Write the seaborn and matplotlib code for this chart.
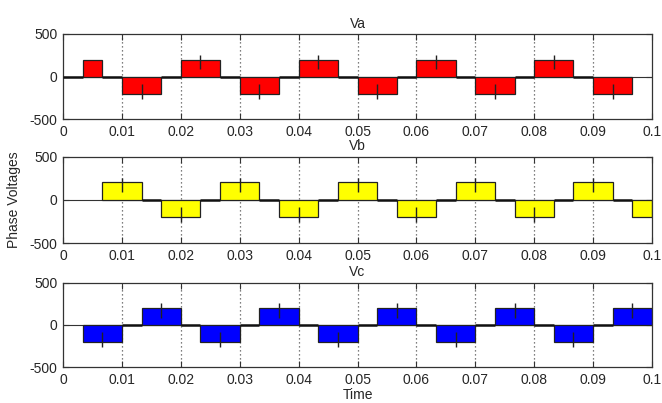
import numpy as np
import pandas as pd
import matplotlib
matplotlib.use("Agg")
import matplotlib.pyplot as plt
import seaborn as sns

# ---- data ----
phases = ["Va", "Vb", "Vc"]
colors = ["#ff0000", "#ffff00", "#0000ff"]

va_start = [0.00333, 0.01, 0.02, 0.03, 0.04, 0.05, 0.06, 0.07, 0.08, 0.09]
va_end = [0.00667, 0.01667, 0.02667, 0.03667, 0.04667, 0.05667, 0.06667, 0.07667, 0.08667, 0.09667]
va_level = [200, -200, 200, -200, 200, -200, 200, -200, 200, -200]
va_err = [False, True, True, True, True, True, True, True, True, True]

vb_start = [0.00667, 0.01667, 0.02667, 0.03667, 0.04667, 0.05667, 0.06667, 0.07667, 0.08667, 0.09667]
vb_end = [0.01333, 0.02333, 0.03333, 0.04333, 0.05333, 0.06333, 0.07333, 0.08333, 0.09333, 0.1]
vb_level = [200, -200, 200, -200, 200, -200, 200, -200, 200, -200]
vb_err = [True, True, True, True, True, True, True, True, True, False]

vc_start = [0.00333, 0.01333, 0.02333, 0.03333, 0.04333, 0.05333, 0.06333, 0.07333, 0.08333, 0.09333]
vc_end = [0.01, 0.02, 0.03, 0.04, 0.05, 0.06, 0.07, 0.08, 0.09, 0.1]
vc_level = [-200, 200, -200, 200, -200, 200, -200, 200, -200, 200]
vc_err = [True, True, True, True, True, True, True, True, True, True]

# zero-level stretch of Va before its first pulse
va_lead = [0.0, 0.00333]

err_inner = 85
err_outer = 255

x_ticks = [0, 0.01, 0.02, 0.03, 0.04, 0.05, 0.06, 0.07, 0.08, 0.09, 0.1]
x_ticklabels = ["0", "0.01", "0.02", "0.03", "0.04", "0.05", "0.06", "0.07", "0.08", "0.09", "0.1"]
y_ticks = [-500, 0, 500]
y_ticklabels = ["-500", "0", "500"]

sns.set_style("white")
plt.rcParams["font.family"] = ["Liberation Sans", "DejaVu Sans"]
txt = "#262626"

fig = plt.figure(figsize=(6.62, 4.03), dpi=100)
boxes = [
    [0.0952, 0.7035, 0.8897, 0.2122],
    [0.0952, 0.3970, 0.8897, 0.2146],
    [0.0952, 0.0881, 0.8897, 0.2109],
]

data = [
    (va_start, va_end, va_level, va_err),
    (vb_start, vb_end, vb_level, vb_err),
    (vc_start, vc_end, vc_level, vc_err),
]

for i, (name, col, box, (st, en, lv, er)) in enumerate(zip(phases, colors, boxes, data)):
    ax = fig.add_axes(box)
    df = pd.DataFrame({"start": st, "end": en, "level": lv, "err": er})
    df["width"] = df["end"] - df["start"]
    df["center"] = df["start"] + df["width"] / 2

    # vertical dotted grid
    for xt in x_ticks[1:-1]:
        ax.axvline(xt, color="#555555", lw=0.9, ls=(0, (1, 2.2)), zorder=0)

    # thin baseline
    ax.axhline(0, color="#333333", lw=0.8, zorder=1)

    ax.bar(df["start"], df["level"], width=df["width"], align="edge",
           color=col, edgecolor="#222222", linewidth=0.9, zorder=2)

    # thick zero segments of the signal (gaps between pulses)
    gap_s = list(df["end"][:-1])
    gap_e = list(df["start"][1:])
    if i == 0:
        gap_s = [va_lead[0]] + gap_s
        gap_e = [va_lead[1]] + gap_e
    ax.hlines([0] * len(gap_s), gap_s, gap_e, color="#111111", lw=1.8, zorder=3)

    # error-bar-like ticks
    e = df[df["err"]]
    sign = np.sign(e["level"])
    ax.vlines(e["center"], sign * err_inner, sign * err_outer, color="#222222", lw=1.0, zorder=4)

    ax.set_xlim(0, 0.1)
    ax.set_ylim(-500, 500)
    ax.set_xticks(x_ticks)
    ax.set_xticklabels(x_ticklabels)
    ax.set_yticks(y_ticks)
    ax.set_yticklabels(y_ticklabels)
    ax.tick_params(direction="in", length=4, width=0.8, colors="#333333",
                   labelcolor=txt, labelsize=10, pad=4, top=True, right=True,
                   bottom=True, left=True)
    for sp in ax.spines.values():
        sp.set_color("#333333")
        sp.set_linewidth(0.9)
    ax.set_title(name, fontsize=10, color=txt, pad=4.5)
    if i == 1:
        ax.set_ylabel("Phase Voltages", fontsize=10, color=txt, labelpad=6)
    if i == 2:
        ax.set_xlabel("Time", fontsize=10, color=txt, labelpad=1)

fig.savefig("out.png", dpi=100)
